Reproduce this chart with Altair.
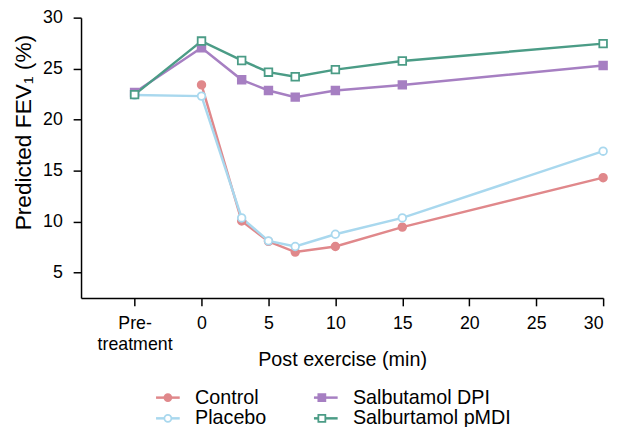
import altair as alt
import pandas as pd

# x positions in minutes; -5 is the "Pre-treatment" slot on the axis
time_min = [-5, 0, 3, 5, 7, 10, 15, 30]
series_names = ["Control", "Placebo", "Salbutamol DPI", "Salburtamol pMDI"]
control = [None, 23.4, 10.05, 8.05, 7.0, 7.55, 9.45, 14.3]
placebo = [22.4, 22.3, 10.35, 8.1, 7.55, 8.75, 10.35, 16.9]
dpi = [22.65, 27.05, 23.9, 22.85, 22.2, 22.85, 23.4, 25.3]
pmdi = [22.45, 27.7, 25.8, 24.65, 24.2, 24.9, 25.75, 27.45]
x_ticks = [-5, 0, 5, 10, 15, 20, 25, 30]
y_ticks = [5, 10, 15, 20, 25, 30]

# styles, in series order
series_colors = ["#e0888b", "#a9d8ee", "#a67fc2", "#4b9c86"]
series_fills = ["#e0888b", "white", "#a67fc2", "white"]
series_shapes = ["circle", "circle", "square", "square"]

rows = []
for name, vals in zip(series_names, [control, placebo, dpi, pmdi]):
    for t, v in zip(time_min, vals):
        if v is not None:
            rows.append({"series": name, "time": t, "fev": v})
df = pd.DataFrame(rows)

FONT = "Liberation Sans"

common_leg = dict(
    title=None, orient="none", legendX=74.5, legendY=375, columns=2,
    columnPadding=42, rowPadding=1, padding=0, symbolOffset=3.5,
    labelOffset=17.5, labelFont=FONT, labelFontSize=20, labelColor="black",
    labelLimit=400, values=series_names,
)
# legend of the line segments (with visible labels)
legend_lines = alt.Legend(
    symbolType="M-1.386,0H1.386", symbolSize=300, symbolStrokeWidth=2.5,
    symbolFillColor="transparent", labelOpacity=1, zindex=1, **common_leg,
)
# legend of the markers, laid exactly over the first one
legend_marks = alt.Legend(
    symbolSize=50, symbolStrokeWidth=1.8, labelOpacity=0, zindex=2,
    **common_leg,
)
# marker scales carry one unused extra domain value so that Vega-Lite keeps
# the two legends apart
mk_domain = series_names + ["~"]

x_enc = alt.X(
    "time:Q",
    scale=alt.Scale(domain=[-9, 30], nice=False, zero=False),
    axis=alt.Axis(
        values=x_ticks, title="Post exercise (min)",
        labelExpr="datum.value == -5 ? ['Pre-', 'treatment'] : datum.label",
        labelLineHeight=21.5, labelPadding=9, tickSize=8,
        titleY=68, titleBaseline="alphabetic",
    ),
)
y_enc = alt.Y(
    "fev:Q",
    scale=alt.Scale(domain=[2.5, 30], nice=False, zero=False),
    axis=alt.Axis(
        values=y_ticks, title="Predicted FEV₁ (%)", tickSize=8, labelPadding=11,
        titleX=-51, titleY=116, titleAngle=270, titleBaseline="alphabetic",
        titleAlign="center", titleFontSize=23,
    ),
)

lines = alt.Chart(df).mark_line(strokeWidth=2.5).encode(
    x=x_enc, y=y_enc,
    color=alt.Color("series:N",
                    scale=alt.Scale(domain=series_names, range=series_colors),
                    legend=legend_lines),
)
points = alt.Chart(df).mark_point(filled=False, size=60, strokeWidth=1.8, opacity=1).encode(
    x=x_enc, y=y_enc,
    stroke=alt.Stroke("series:N",
                      scale=alt.Scale(domain=mk_domain, range=series_colors + ["white"]),
                      legend=legend_marks),
    fill=alt.Fill("series:N",
                  scale=alt.Scale(domain=mk_domain, range=series_fills + ["white"]),
                  legend=legend_marks),
    shape=alt.Shape("series:N",
                    scale=alt.Scale(domain=mk_domain, range=series_shapes + ["circle"]),
                    legend=legend_marks),
)

chart = alt.layer(lines, points).properties(
    width=529, height=284,
    autosize=alt.AutoSizeParams(type="none"),
    padding={"left": 74, "top": 7, "right": 10, "bottom": 128},
).configure_view(stroke=None).configure_axis(
    grid=False, domainColor="black", domainWidth=1.5, tickColor="black", tickWidth=1.5,
    labelFont=FONT, labelFontSize=18, labelColor="black",
    titleFont=FONT, titleFontSize=20, titleColor="black", titleFontWeight="normal",
)

chart.save("out.html", embed_options={"renderer": "svg", "actions": False})
